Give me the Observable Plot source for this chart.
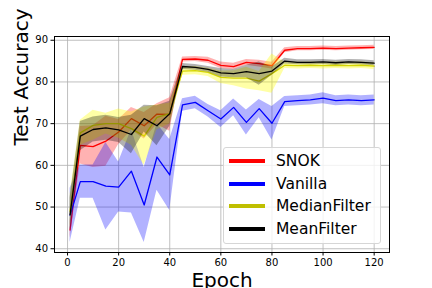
<!DOCTYPE html>
<html>
<head>
<meta charset="utf-8">
<script src="https://cdn.jsdelivr.net/npm/d3@7"></script>
<script src="https://cdn.jsdelivr.net/npm/@observablehq/plot@0.6"></script>
<style>
  body { margin: 0; background: #fff; }
  #wrap { position: relative; width: 432px; height: 288px; overflow: hidden; font-family: "DejaVu Sans", sans-serif; }
  #legend { position: absolute; left: 223px; top: 147px; width: 158px; height: 97px;
    border: 1px solid #d6d6d6; border-radius: 3px; background: rgba(255,255,255,0.8); box-sizing: border-box; }
  .sw { position: absolute; left: 5px; width: 36px; height: 4px; }
  .lab { position: absolute; left: 52px; font-size: 15.5px; color: #000; white-space: nowrap; line-height: 20px; }
</style>
</head>
<body>
<div id="wrap"></div>
<script>
const epochs = [1,5,10,15,20,25,30,35,40,45,50,55,60,65,70,75,80,85,90,95,100,105,110,115,120];

const seriesNames = ["SNOK", "Vanilla", "MedianFilter", "MeanFilter"];
const lineColors = ["#ff0000", "#0000ff", "#bfbf00", "#000000"];
const fillColors = ["#ff0000", "#0000ff", "#ffff00", "#000000"];

const snokMean =   [44.5,64.8,64.5,65.8,68.0,71.2,69.5,72.3,72.2,85.4,85.5,85.2,84.0,83.7,84.7,84.4,83.9,87.6,88.0,88.0,88.1,88.0,88.1,88.2,88.3];
const snokStd =    [2.0,4.5,5.0,6.0,3.0,2.7,3.2,2.5,4.0,0.6,0.6,0.7,0.8,0.8,0.7,0.8,0.8,0.6,0.5,0.5,0.5,0.5,0.5,0.5,0.5];
const vanillaMean =[48.0,56.1,56.1,55.0,54.8,58.6,50.5,62.0,57.7,74.5,75.1,73.1,71.1,73.9,70.3,73.6,70.1,75.3,75.5,75.7,76.1,75.5,75.7,75.5,75.7];
const vanillaStd = [6.5,4.0,4.0,10.5,6.0,10.0,9.0,8.0,8.5,1.5,1.5,1.5,2.0,2.0,3.0,2.2,4.0,1.2,1.2,1.2,1.3,1.2,1.2,1.2,1.2];
const medianMean = [49.0,67.8,69.6,70.0,70.0,68.8,67.0,71.5,72.4,82.6,82.7,82.3,81.1,80.9,80.9,80.2,82.0,84.0,83.9,84.0,83.9,84.0,83.9,84.0,83.8];
const medianStd =  [4.0,3.0,3.6,2.5,3.5,4.0,7.0,3.0,2.5,1.0,1.0,1.0,1.5,1.8,2.6,2.3,4.7,0.8,0.8,0.8,0.8,0.8,0.8,0.8,0.8];
const meanMean =   [48.2,67.0,68.6,69.0,68.5,67.4,71.2,69.5,72.4,83.7,83.5,83.0,82.2,82.0,82.5,82.0,82.6,85.0,84.7,84.7,84.8,84.6,84.8,84.7,84.5];
const meanStd =    [4.0,3.5,3.0,3.0,3.0,4.6,3.2,4.8,3.0,0.7,0.7,0.7,1.0,1.0,1.5,2.8,1.0,0.7,0.6,0.6,0.6,0.6,0.6,0.6,0.6];

const xTicks = [0,20,40,60,80,100,120];
const yTicks = [40,50,60,70,80,90];

const means = [snokMean, vanillaMean, medianMean, meanMean];
const stds = [snokStd, vanillaStd, medianStd, meanStd];

const marks = [
  Plot.gridX(xTicks, {stroke: "#b0b0b0", strokeOpacity: 1, strokeWidth: 0.8}),
  Plot.gridY(yTicks, {stroke: "#b0b0b0", strokeOpacity: 1, strokeWidth: 0.8})
];
seriesNames.forEach((name, i) => {
  const rows = epochs.map((e, j) => ({epoch: e, m: means[i][j], lo: means[i][j] - stds[i][j], hi: means[i][j] + stds[i][j]}));
  marks.push(Plot.line(rows, {x: "epoch", y: "m", stroke: lineColors[i], strokeWidth: 1.3}));
  marks.push(Plot.areaY(rows, {x: "epoch", y1: "lo", y2: "hi", fill: fillColors[i], fillOpacity: i === 2 ? 0.35 : 0.3}));
});
marks.push(
  Plot.frame({stroke: "#000", strokeWidth: 1}),
  Plot.axisX(xTicks, {tickSize: 3.5, tickPadding: 3, fontSize: 10, label: null, color: "#000"}),
  Plot.axisY(yTicks, {tickSize: 3.5, tickPadding: 3, fontSize: 10, label: null, color: "#000"}),
  Plot.text(["Epoch"], {frameAnchor: "bottom", dy: 34, fontSize: 20, fill: "#000"}),
  Plot.text(["Test Accuracy"], {frameAnchor: "left", dx: -33, dy: 1, rotate: -90, fontSize: 20, fill: "#000"})
);

const chart = Plot.plot({
  width: 432,
  height: 288,
  marginLeft: 54,
  marginRight: 43,
  marginTop: 36,
  marginBottom: 36,
  style: {fontFamily: "DejaVu Sans, sans-serif", fontSize: "10px", background: "#fff", overflow: "visible"},
  x: {domain: [-5.1, 126.0]},
  y: {domain: [39.1, 90.9]},
  marks
});
const wrap = document.getElementById("wrap");
wrap.appendChild(chart);

const legend = document.createElement("div");
legend.id = "legend";
seriesNames.forEach((name, i) => {
  const top = 3 + i * 22.7;
  const sw = document.createElement("div");
  sw.className = "sw";
  sw.style.top = (top + 8) + "px";
  sw.style.background = lineColors[i];
  const lab = document.createElement("div");
  lab.className = "lab";
  lab.style.top = top + "px";
  lab.textContent = name;
  legend.appendChild(sw);
  legend.appendChild(lab);
});
wrap.appendChild(legend);
</script>
</body>
</html>
